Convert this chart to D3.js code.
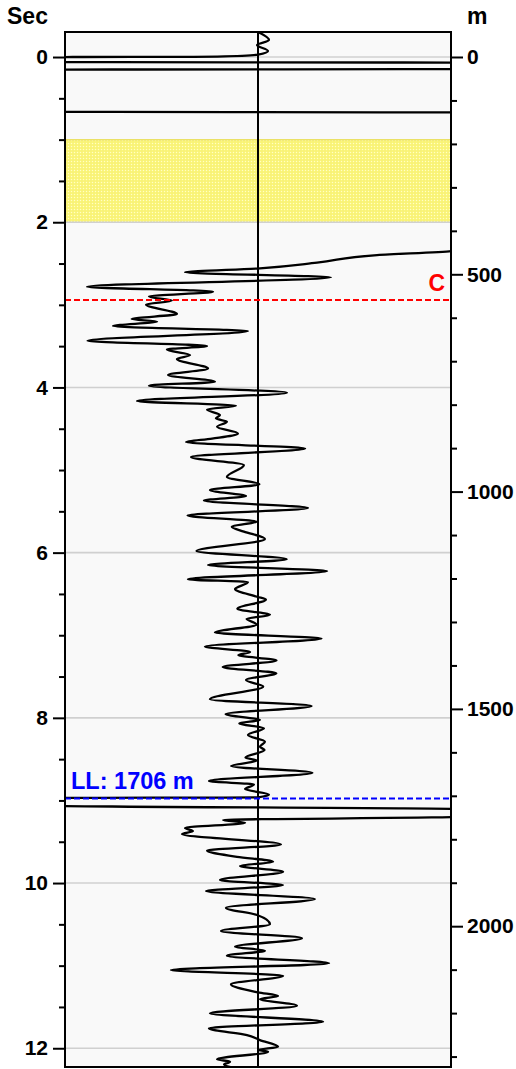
<!DOCTYPE html>
<html>
<head>
<meta charset="utf-8">
<script src="https://cdn.jsdelivr.net/npm/d3@7"></script>
<style>
  html, body { margin: 0; padding: 0; background: #fff; }
  svg { display: block; }
  text { font-family: "Liberation Sans", Arial, sans-serif; font-weight: bold; }
</style>
</head>
<body>
<svg id="chart" width="516" height="1069"></svg>
<script>
// trace: two-way time (s) and normalised amplitude (-1 left edge, +1 right edge)
var traceSec = [
  -0.303, -0.206, -0.145, -0.073, -0.030, -0.006, 0.002, 0.061, 0.068, 0.145,
  0.153, 0.663, 0.671, 2.276, 2.349, 2.397, 2.490, 2.558, 2.606, 2.667,
  2.781, 2.841, 2.900, 2.948, 2.996, 3.111, 3.172, 3.202, 3.257, 3.317,
  3.435, 3.499, 3.541, 3.608, 3.656, 3.771, 3.850, 3.931, 3.979, 4.064,
  4.165, 4.222, 4.268, 4.334, 4.374, 4.415, 4.476, 4.558, 4.619, 4.661,
  4.740, 4.843, 4.939, 5.085, 5.173, 5.242, 5.315, 5.369, 5.460, 5.551,
  5.626, 5.686, 5.745, 5.835, 5.981, 6.081, 6.150, 6.223, 6.323, 6.356,
  6.441, 6.534, 6.568, 6.680, 6.752, 6.801, 6.870, 6.967, 7.040, 7.137,
  7.203, 7.240, 7.306, 7.385, 7.461, 7.542, 7.621, 7.776, 7.857, 7.954,
  8.027, 8.067, 8.127, 8.208, 8.289, 8.350, 8.390, 8.481, 8.517, 8.584,
  8.665, 8.765, 8.808, 8.862, 8.929, 8.962, 8.971, 9.062, 9.107, 9.195,
  9.237, 9.270, 9.334, 9.370, 9.407, 9.534, 9.607, 9.682, 9.742, 9.794,
  9.863, 9.964, 10.024, 10.097, 10.194, 10.299, 10.387, 10.500, 10.581, 10.669,
  10.771, 10.819, 10.880, 10.972, 11.053, 11.122, 11.226, 11.323, 11.368, 11.404,
  11.485, 11.577, 11.679, 11.759, 11.840, 11.901, 11.982, 12.022, 12.042, 12.134,
  12.163, 12.197, 12.240
];
var traceAmp = [
  0.00, 0.057, -0.005, 0.052, 0.00, -0.21, -1.1, -1.1, 1.1, 1.1,
  -1.1, -1.1, 1.1, 1.1, 1.0, 0.617, 0.306, 0.01, -0.378, 0.378,
  -0.886, -0.233, -0.565, -0.446, -0.580, -0.420, -0.655, -0.523, -0.751, -0.052,
  -0.883, -0.264, -0.472, -0.352, -0.420, -0.259, -0.466, -0.223, -0.565, 0.150,
  -0.627, -0.114, -0.264, -0.197, -0.218, -0.161, -0.212, -0.104, -0.238, -0.373,
  0.244, -0.347, -0.073, -0.161, 0.007, -0.249, -0.062, -0.280, 0.259, -0.365,
  -0.007, -0.136, -0.073, 0.036, -0.319, 0.149, -0.259, 0.358, -0.363, -0.052,
  -0.119, -0.005, 0.041, -0.107, 0.062, -0.059, -0.007, -0.223, 0.329, -0.275,
  -0.041, -0.102, 0.096, -0.183, 0.095, -0.062, 0.027, -0.249, 0.278, -0.168,
  0.010, -0.097, 0.031, -0.052, 0.036, 0.010, 0.034, -0.065, -0.005, -0.140,
  0.282, -0.254, -0.021, -0.067, 0.057, 0.00, -1.1, -1.1, 1.1, 1.1,
  -0.181, -0.067, -0.378, -0.337, -0.394, 0.119, -0.264, -0.109, 0.078, -0.093,
  0.130, -0.197, 0.130, -0.269, 0.295, -0.166, -0.005, 0.062, -0.192, 0.228,
  -0.119, 0.036, -0.161, 0.368, -0.451, 0.130, -0.140, 0.00, 0.104, 0.010,
  0.202, -0.249, 0.337, -0.254, -0.057, 0.010, 0.104, 0.00, 0.052, -0.212,
  -0.145, -0.176, -0.119
];

var secMajor = [0, 2, 4, 6, 8, 10, 12];
var meterMajor = [0, 500, 1000, 1500, 2000];
var bandSec = [1.0, 2.0];          // yellow (sand) interval
var markerNames = ['C', 'LL: 1706 m'];
var markerDepth = [559, 1706];     // m
var markerColors = ['#ff0000', '#0000ff'];

var W = 516, H = 1069;
var margin = {top: 32, right: 65, bottom: 2, left: 65};
var plotW = W - margin.left - margin.right;
var plotH = H - margin.top - margin.bottom;
var FONT = '"Liberation Sans", Arial, sans-serif';

var svg = d3.select('#chart');
var g = svg.append('g').attr('transform', 'translate(' + margin.left + ',' + margin.top + ')');

var x = d3.scaleLinear().domain([-1, 1]).range([0, plotW]);
var y = d3.scaleLinear().domain([-0.303, 12.227]).range([0, plotH]);
// depth axis on the right is linear too
var yM = d3.scaleLinear().domain([-57.5, 2324]).range([0, plotH]);

// sandy fill pattern
var defs = svg.append('defs');
var pat = defs.append('pattern').attr('id', 'sand')
  .attr('width', 3).attr('height', 3).attr('patternUnits', 'userSpaceOnUse');
pat.append('rect').attr('width', 3).attr('height', 3).attr('fill', '#fbf67c');
pat.append('rect').attr('x', 0).attr('y', 0).attr('width', 1).attr('height', 1).attr('fill', '#fffdc8');
pat.append('rect').attr('x', 1.5).attr('y', 1.5).attr('width', 1).attr('height', 1).attr('fill', '#f1e96a');
defs.append('clipPath').attr('id', 'plotClip')
  .append('rect').attr('width', plotW).attr('height', plotH);

g.append('rect').attr('width', plotW).attr('height', plotH).attr('fill', '#f9f9f9');

g.append('rect')
  .attr('x', 0).attr('width', plotW)
  .attr('y', y(bandSec[0])).attr('height', y(bandSec[1]) - y(bandSec[0]))
  .attr('fill', 'url(#sand)');
g.append('line')
  .attr('x1', 0).attr('x2', plotW)
  .attr('y1', y(bandSec[0])).attr('y2', y(bandSec[0]))
  .attr('stroke', '#ebe166').attr('stroke-width', 1.5);

// grid every 2 s
g.selectAll('.grid').data(secMajor).enter().append('line')
  .attr('class', 'grid')
  .attr('x1', 0).attr('x2', plotW)
  .attr('y1', function(d) { return y(d); }).attr('y2', function(d) { return y(d); })
  .attr('stroke', '#d0d0d0').attr('stroke-width', 1.6);

// zero line
g.append('line')
  .attr('x1', x(0)).attr('x2', x(0)).attr('y1', 0).attr('y2', plotH)
  .attr('stroke', '#000').attr('stroke-width', 2);

var traceData = traceSec.map(function(s, i) { return {sec: s, amp: traceAmp[i]}; });
var line = d3.line()
  .x(function(d) { return x(d.amp); })
  .y(function(d) { return y(d.sec); })
  .curve(d3.curveMonotoneY);

g.append('path')
  .datum(traceData)
  .attr('clip-path', 'url(#plotClip)')
  .attr('d', line)
  .attr('fill', 'none')
  .attr('stroke', '#000')
  .attr('stroke-width', 2.3);

// marker lines
markerDepth.forEach(function(m, i) {
  g.append('line')
    .attr('x1', 0).attr('x2', plotW)
    .attr('y1', yM(m)).attr('y2', yM(m))
    .attr('stroke', markerColors[i]).attr('stroke-width', 2)
    .attr('stroke-dasharray', '6,3');
});
g.append('text')
  .attr('x', plotW - 6).attr('y', yM(markerDepth[0]) - 9)
  .attr('text-anchor', 'end').attr('font-size', 23)
  .attr('fill', markerColors[0]).text(markerNames[0]);
g.append('text')
  .attr('x', 6).attr('y', yM(markerDepth[1]) - 9)
  .attr('font-size', 23.5)
  .attr('fill', markerColors[1]).text(markerNames[1]);

// frame
g.append('rect').attr('width', plotW).attr('height', plotH)
  .attr('fill', 'none').attr('stroke', '#000').attr('stroke-width', 2);

function styleAxis(a) {
  a.select('.domain').remove();
  a.selectAll('line').attr('stroke-width', 2);
  a.selectAll('text').attr('font-size', 21).attr('font-family', FONT)
    .attr('font-weight', 'bold').attr('fill', '#000');
}

// left axis (seconds)
var minorSec = d3.range(0, 12.5, 0.5).filter(function(d) { return secMajor.indexOf(d) < 0; });
g.append('g').call(d3.axisLeft(y).tickValues(minorSec).tickSize(6).tickFormat(''))
  .call(styleAxis);
g.append('g').call(d3.axisLeft(y).tickValues(secMajor).tickSize(12).tickPadding(5))
  .call(styleAxis);

// right axis (metres)
var minorM = d3.range(100, 2400, 100).filter(function(d) { return meterMajor.indexOf(d) < 0; });
g.append('g').attr('transform', 'translate(' + plotW + ',0)')
  .call(d3.axisRight(yM).tickValues(minorM).tickSize(6).tickFormat(''))
  .call(styleAxis);
g.append('g').attr('transform', 'translate(' + plotW + ',0)')
  .call(d3.axisRight(yM).tickValues(meterMajor).tickSize(12).tickPadding(4).tickFormat(d3.format('d')))
  .call(styleAxis);

svg.append('text').attr('x', 7).attr('y', 24).attr('font-size', 23).text('Sec');
svg.append('text').attr('x', 467).attr('y', 24).attr('font-size', 23).text('m');
</script>
</body>
</html>
